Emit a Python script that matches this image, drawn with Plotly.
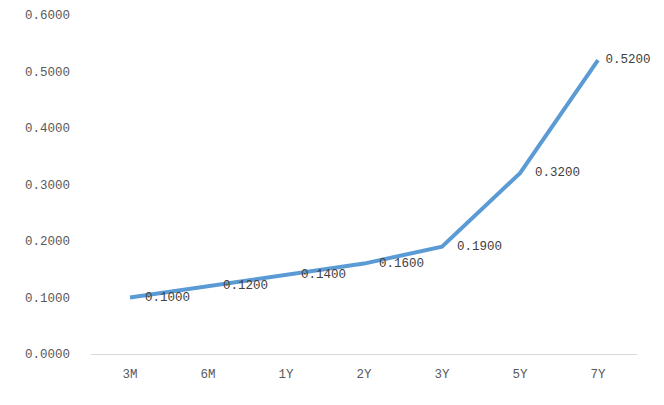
import plotly.graph_objects as go

categories = ["3M", "6M", "1Y", "2Y", "3Y", "5Y", "7Y"]
values = [0.10, 0.12, 0.14, 0.16, 0.19, 0.32, 0.52]
y_ticks = [0.0, 0.1, 0.2, 0.3, 0.4, 0.5, 0.6]

FONT = "Liberation Mono, DejaVu Sans Mono, monospace"

# label gap (spaces) after each point; the last one sits nearer the edge
pads = ["  "] * (len(values) - 1) + [" "]

fig = go.Figure()
fig.add_trace(go.Scatter(
    x=categories, y=values, mode="lines+text",
    line=dict(color="#5b9bd5", width=4),
    text=[f"{p}{v:.4f}" for p, v in zip(pads, values)],
    textposition="middle right",
    textfont=dict(family=FONT, size=12.5, color="#404040"),
    cliponaxis=False,
    hoverinfo="skip",
))

# page body has an 8px default margin, so the figure is sized to fit inside it
fig.update_layout(
    width=656, height=397,
    margin=dict(l=83, r=27, t=7, b=51, autoexpand=False),
    paper_bgcolor="white", plot_bgcolor="white",
    showlegend=False,
    xaxis=dict(
        type="category", range=[-0.5, 6.5], automargin=False,
        showgrid=False, showline=True, linecolor="#d9d9d9", linewidth=1,
        ticks="", zeroline=False, ticklabelstandoff=8,
        tickfont=dict(family=FONT, size=12.5, color="#595959"),
    ),
    yaxis=dict(
        range=[0, 0.6], tickvals=y_ticks, automargin=False,
        ticktext=[f"{t:.4f}" for t in y_ticks],
        showgrid=False, showline=False, zeroline=False, ticks="",
        ticklabelstandoff=20,
        tickfont=dict(family=FONT, size=12.5, color="#595959"),
    ),
)

fig.write_html("out.html")
